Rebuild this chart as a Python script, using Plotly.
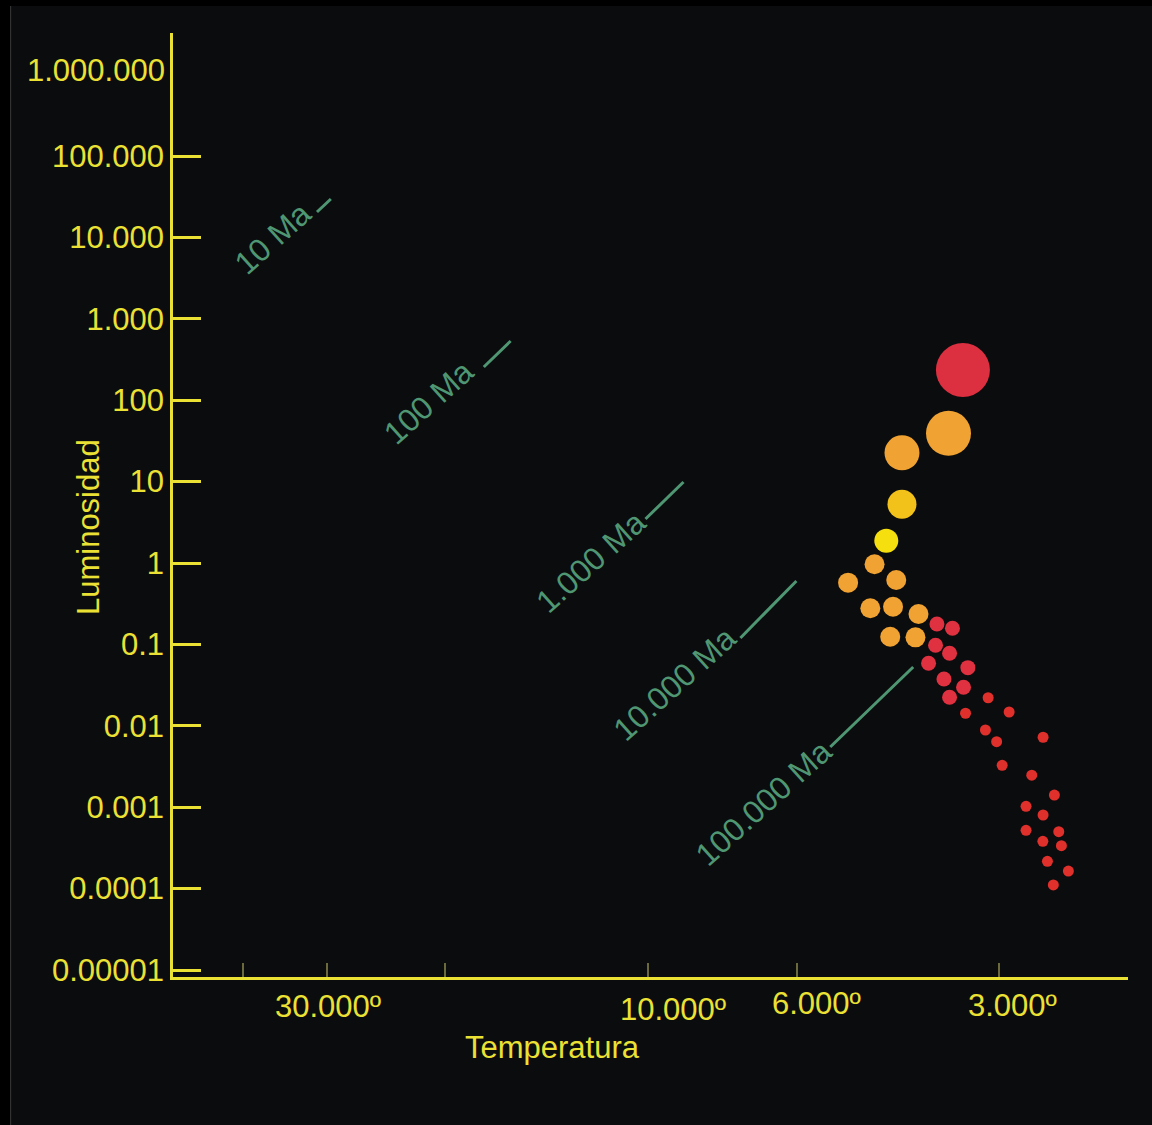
import numpy as np
import plotly.graph_objects as go

# ---- Star sample: effective temperature (K) and luminosity (L_sun) ----
giant_temp = [3395, 3567, 4183, 4183, 4414]
giant_lum = [235, 39.2, 22.6, 5.26, 1.88]
giant_size = [54, 45, 35, 29, 24]
giant_color = ["#dc2f3f", "#f0a232", "#f0a232", "#f2c21a", "#f6df0e"]

orange_temp = [4595, 5031, 4266, 4662, 4313, 3953, 4355, 3994]
orange_lum = [0.964, 0.573, 0.618, 0.278, 0.290, 0.236, 0.124, 0.122]

red_temp = [3711, 3519, 3729, 3554, 3819, 3338, 3623, 3388, 3554]
red_lum = [0.178, 0.158, 0.0975, 0.0778, 0.0586, 0.0518, 0.0376, 0.0297, 0.0224]

dwarf_temp = [3114, 3365, 2898, 3143, 3025, 2580, 2968, 2682, 2482,
              2735, 2580, 2735, 2445, 2582, 2423, 2542, 2366, 2491]
dwarf_lum = [0.0221, 0.01426, 0.01477, 0.00888, 0.00638, 0.00723, 0.00327,
             0.00247, 0.00141, 0.001026, 0.000802, 0.00052, 0.0005,
             0.000381, 0.000337, 0.000216, 0.000164, 0.000111]

# ---- Isochrones (age labels and short line segments) ----
iso_labels = ["10 Ma", "100 Ma", "1.000 Ma", "10.000 Ma", "100.000 Ma"]
iso_temp = [[31020, 29580], [17520, 15980], [10070, 8840], [7275, 6005], [5348, 4025]]
iso_lum = [[20500, 29650], [256, 534], [3.47, 9.89], [0.120, 0.601], [0.00549, 0.0528]]
iso_label_temp = [36070, 21150, 12150, 9120, 6724]
iso_label_lum = [9840, 95.0, 1.03, 0.0326, 0.001126]

# ---- Axis ticks ----
lum_ticks = [1e-5, 1e-4, 1e-3, 1e-2, 1e-1, 1, 10, 100, 1e3, 1e4, 1e5]
lum_ticktext = ["0.00001", "0.0001", "0.001", "0.01", "0.1", "1", "10", "100",
                "1.000", "10.000", "100.000"]
lum_top_value = 1e6
lum_top_text = "1.000.000"
temp_ticks = [40000, 30000, 20000, 10000, 6000, 3000]
temp_label_vals = [30000, 10000, 6000, 3000]
temp_label_text = ["30.000º", "10.000º", "6.000º", "3.000º"]

YELLOW = "#ebe134"
GREEN = "#4f9673"
FONT = "Liberation Sans, Arial, Helvetica, sans-serif"

fig = go.Figure()

# isochrone segments
for t, l in zip(iso_temp, iso_lum):
    fig.add_trace(go.Scatter(x=t, y=l, mode="lines",
                             line=dict(color=GREEN, width=3),
                             hoverinfo="skip", showlegend=False))

# stars
fig.add_trace(go.Scatter(x=dwarf_temp, y=dwarf_lum, mode="markers",
                         marker=dict(size=11, color="#e0302c", opacity=1, line=dict(width=0)),
                         showlegend=False))
fig.add_trace(go.Scatter(x=red_temp, y=red_lum, mode="markers",
                         marker=dict(size=15, color="#df3140", opacity=1, line=dict(width=0)),
                         showlegend=False))
fig.add_trace(go.Scatter(x=orange_temp, y=orange_lum, mode="markers",
                         marker=dict(size=20, color="#f0a232", opacity=1, line=dict(width=0)),
                         showlegend=False))
fig.add_trace(go.Scatter(x=giant_temp, y=giant_lum, mode="markers",
                         marker=dict(size=giant_size, color=giant_color, opacity=1,
                                     line=dict(width=0)),
                         showlegend=False))

annotations = []
for lab, t, l in zip(iso_labels, iso_label_temp, iso_label_lum):
    annotations.append(dict(x=np.log10(t), y=np.log10(l), xref="x", yref="y",
                            text=lab, showarrow=False, textangle=-42,
                            xanchor="center", yanchor="middle",
                            font=dict(family=FONT, size=32, color=GREEN)))

x_shifts = [1, 25, 20, 13]
y_shifts = [-29, -32, -26, -28]
for v, txt, dx, dy in zip(temp_label_vals, temp_label_text, x_shifts, y_shifts):
    annotations.append(dict(x=np.log10(v), y=0, xref="x", yref="paper",
                            text=txt, showarrow=False, xanchor="center",
                            yanchor="middle", xshift=dx, yshift=dy,
                            font=dict(family=FONT, size=31, color=YELLOW)))

annotations.append(dict(x=0, y=np.log10(lum_top_value), xref="paper", yref="y",
                        text=lum_top_text, showarrow=False, xanchor="right",
                        yanchor="middle", xshift=-6, yshift=4,
                        font=dict(family=FONT, size=31, color=YELLOW)))

annotations.append(dict(x=0.3975, y=-0.0742, xref="paper", yref="paper",
                        text="Temperatura", showarrow=False, xanchor="center",
                        yanchor="middle",
                        font=dict(family=FONT, size=31, color=YELLOW)))
annotations.append(dict(x=-0.0879, y=0.4767, xref="paper", yref="paper",
                        text="Luminosidad", showarrow=False, textangle=-90,
                        xanchor="center", yanchor="middle",
                        font=dict(family=FONT, size=31, color=YELLOW)))

shapes = [
    # black frame strips at the top and left edges
    dict(type="rect", xref="paper", yref="paper", x0=-0.19, x1=1.05,
         y0=1.0286, y1=1.05, fillcolor="#000000", line=dict(width=0), layer="below"),
    dict(type="rect", xref="paper", yref="paper", x0=-0.19, x1=-0.1705,
         y0=-0.2, y1=1.05, fillcolor="#000000", line=dict(width=0), layer="below"),
    dict(type="line", xref="paper", yref="paper", x0=-0.1700, x1=-0.1700,
         y0=-0.2, y1=1.0286, line=dict(color="#3a3a3a", width=1), layer="below"),
]

fig.update_layout(
    width=1152, height=1125,
    margin=dict(l=173, r=24, t=33, b=148),
    paper_bgcolor="#0b0c0e", plot_bgcolor="#0b0c0e",
    font=dict(family=FONT, color=YELLOW),
    annotations=annotations, shapes=shapes, showlegend=False,
)
fig.update_xaxes(type="log", range=[4.7058, 3.2853], showgrid=False, zeroline=False,
                 showline=True, linecolor=YELLOW, linewidth=2.5,
                 tickmode="array", tickvals=temp_ticks, showticklabels=False,
                 ticks="inside", ticklen=14, tickwidth=1.5, tickcolor="#6b6a3c")
fig.update_yaxes(type="log", range=[-5.086, 6.511], showgrid=False, zeroline=False,
                 showline=True, linecolor=YELLOW, linewidth=2.5,
                 tickmode="array", tickvals=lum_ticks, ticktext=lum_ticktext,
                 ticks="inside", ticklen=28, tickwidth=2.5, tickcolor=YELLOW,
                 tickfont=dict(family=FONT, size=31, color=YELLOW),
                 ticklabelstandoff=0)

fig.write_html("out.html")
